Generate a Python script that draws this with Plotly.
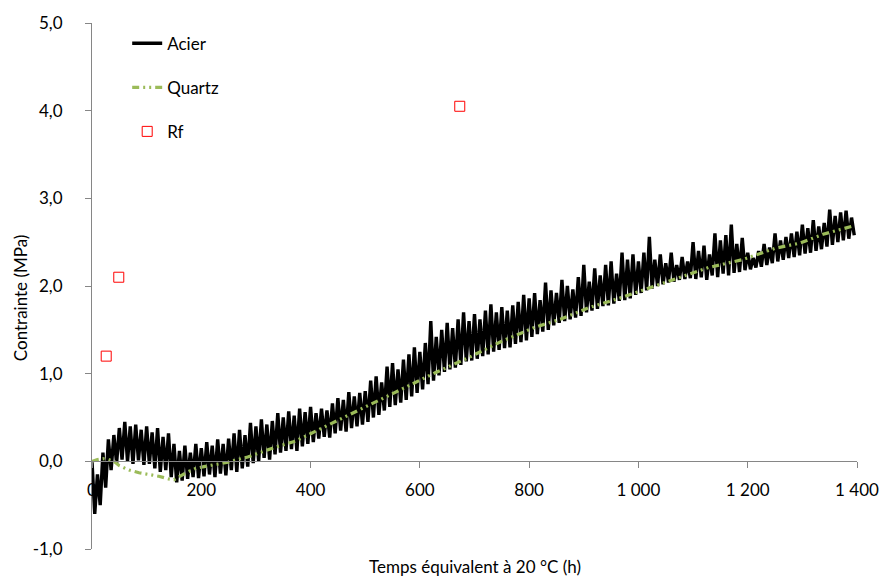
import plotly.graph_objects as go

# ---- data ----
# Acier: noisy band, given as alternating peaks (t = 0,10,...) and troughs (t = 5,15,...)
acier_peak = [
    0.00, -0.15, 0.10, 0.25, 0.30, 0.38, 0.45, 0.40, 0.42, 0.36,
    0.40, 0.33, 0.38, 0.28, 0.32, 0.20, 0.12, 0.18, 0.10, 0.20,
    0.15, 0.22, 0.18, 0.25, 0.20, 0.26, 0.32, 0.36, 0.30, 0.44,
    0.40, 0.48, 0.42, 0.46, 0.55, 0.50, 0.57, 0.52, 0.60, 0.56,
    0.62, 0.55, 0.60, 0.58, 0.66, 0.72, 0.70, 0.79, 0.74, 0.78,
    0.80, 0.92, 0.97, 0.90, 1.08, 1.12, 1.05, 1.16, 1.22, 1.30,
    1.25, 1.35, 1.60, 1.42, 1.50, 1.58, 1.52, 1.62, 1.70, 1.60,
    1.68, 1.62, 1.72, 1.79, 1.70, 1.76, 1.72, 1.78, 1.82, 1.90,
    1.86, 1.92, 1.84, 2.04, 1.95, 1.92, 2.07, 2.00, 1.96, 2.10,
    2.24, 2.05, 2.20, 2.12, 2.24, 2.28, 2.14, 2.38, 2.30, 2.36,
    2.28, 2.38, 2.56, 2.30, 2.36, 2.26, 2.38, 2.24, 2.33, 2.28,
    2.50, 2.40, 2.46, 2.36, 2.60, 2.52, 2.58, 2.70, 2.48, 2.55,
    2.38, 2.32, 2.40, 2.48, 2.44, 2.60, 2.52, 2.56, 2.60, 2.62,
    2.70, 2.66, 2.75, 2.68, 2.72, 2.87, 2.80, 2.84, 2.86, 2.78,
]
acier_trough = [
    -0.60, -0.50, -0.30, -0.10, -0.02, 0.02, 0.00, -0.03, 0.01, -0.04,
    -0.03, -0.08, -0.12, -0.10, -0.18, -0.24, -0.22, -0.20, -0.18, -0.19,
    -0.17, -0.15, -0.18, -0.14, -0.16, -0.10, -0.12, -0.08, -0.06, -0.02,
    0.00, 0.04, 0.02, 0.08, 0.10, 0.12, 0.14, 0.12, 0.17, 0.20,
    0.22, 0.26, 0.28, 0.27, 0.32, 0.35, 0.34, 0.38, 0.40, 0.42,
    0.45, 0.50, 0.53, 0.58, 0.62, 0.64, 0.67, 0.70, 0.74, 0.78,
    0.82, 0.88, 0.92, 0.98, 1.02, 1.05, 1.07, 1.10, 1.14, 1.15,
    1.17, 1.20, 1.22, 1.25, 1.27, 1.29, 1.30, 1.34, 1.36, 1.38,
    1.42, 1.45, 1.48, 1.50, 1.55, 1.58, 1.60, 1.62, 1.64, 1.66,
    1.70, 1.72, 1.74, 1.77, 1.78, 1.80, 1.83, 1.84, 1.86, 1.90,
    1.92, 1.95, 1.97, 2.00, 2.02, 2.04, 2.05, 2.07, 2.08, 2.09,
    2.08, 2.10, 2.07, 2.12, 2.10, 2.14, 2.12, 2.15, 2.16, 2.18,
    2.19, 2.21, 2.22, 2.24, 2.26, 2.28, 2.30, 2.32, 2.33, 2.35,
    2.37, 2.38, 2.40, 2.42, 2.45, 2.47, 2.50, 2.52, 2.54, 2.58,
]
acier_step = 10  # hours between successive peaks (troughs sit halfway)

quartz_t = [0, 10, 20, 30, 40, 50, 68, 86, 104, 122, 140, 150, 172, 190, 205,
            249, 285, 340, 372, 408, 469, 530, 567, 628, 688, 750, 811, 857,
            908, 970, 1030, 1076, 1128, 1190, 1250, 1296, 1338, 1390]
quartz_v = [0.00, 0.02, 0.03, 0.02, 0.00, -0.05, -0.10, -0.13, -0.15, -0.17,
            -0.20, -0.21, -0.13, -0.08, -0.06, -0.01, 0.05, 0.17, 0.23, 0.34,
            0.53, 0.71, 0.82, 1.01, 1.18, 1.37, 1.53, 1.62, 1.75, 1.87, 2.00,
            2.10, 2.21, 2.30, 2.43, 2.49, 2.59, 2.68]

rf_t = [26, 49, 673]
rf_v = [1.20, 2.10, 4.05]

x_ticks = [0, 200, 400, 600, 800, 1000, 1200, 1400]
x_tick_text = ["0", "200", "400", "600", "800", "1 000", "1 200", "1 400"]
y_ticks = [-1, 0, 1, 2, 3, 4, 5]
y_tick_text = ["-1,0", "0,0", "1,0", "2,0", "3,0", "4,0", "5,0"]

# ---- build acier series by interleaving peaks and troughs ----
acier_t, acier_v = [], []
for i, p in enumerate(acier_peak):
    acier_t.append(i * acier_step)
    acier_v.append(p)
    if i < len(acier_trough):
        acier_t.append(i * acier_step + acier_step / 2)
        acier_v.append(acier_trough[i])

FONT = "Lato"
AXIS_COL = "#868686"

fig = go.Figure()
fig.add_trace(go.Scatter(x=acier_t, y=acier_v, mode="lines", name="Acier",
                         line=dict(color="black", width=3.4), legendgroup="a"))
fig.add_trace(go.Scatter(x=quartz_t, y=quartz_v, mode="lines", name="Quartz",
                         line=dict(color="#9BBB59", width=3.2,
                                   dash="7px,4px,2px,4px,2px,4px"),
                         legendgroup="q"))
fig.add_trace(go.Scatter(x=rf_t, y=rf_v, mode="markers", name="Rf",
                         marker=dict(symbol="square-open", size=10, color="#FF0000",
                                     line=dict(width=1)),
                         legendgroup="r"))

fig.update_layout(
    width=885, height=578,
    margin=dict(l=92, r=28, t=23, b=29, autoexpand=False),
    paper_bgcolor="white", plot_bgcolor="white",
    font=dict(family=FONT, size=17, color="black"),
    showlegend=True,
    legend=dict(x=0.046, y=0.995, xanchor="left", yanchor="top",
                bgcolor="rgba(0,0,0,0)", tracegroupgap=19,
                font=dict(family=FONT, size=17)),
    hovermode=False,
    xaxis=dict(range=[0, 1400], tickmode="array", tickvals=x_ticks,
               ticktext=x_tick_text, showgrid=False, zeroline=False,
               showline=True, linecolor=AXIS_COL, linewidth=1,
               ticks="outside", ticklen=6, tickcolor=AXIS_COL,
               anchor="free", position=1/6, ticklabelstandoff=7,
               automargin=False),
    yaxis=dict(range=[-1, 5], tickmode="array", tickvals=y_ticks,
               ticktext=y_tick_text, showgrid=False, zeroline=False,
               showline=True, linecolor=AXIS_COL, linewidth=1,
               ticks="outside", ticklen=6, tickcolor=AXIS_COL,
               ticklabelstandoff=19, automargin=False),
    annotations=[
        dict(text="Contrainte (MPa)", textangle=-90, x=-0.094, y=0.477,
             xref="paper", yref="paper", showarrow=False,
             xanchor="center", yanchor="middle", font=dict(size=17)),
        dict(text="Temps équivalent à 20 °C (h)", x=0.5, y=-0.034,
             xref="paper", yref="paper", showarrow=False,
             xanchor="center", yanchor="middle", font=dict(size=17)),
    ],
)

fig.write_html("out.html", config={"displayModeBar": False},
               post_script="document.body.style.margin='0';")
